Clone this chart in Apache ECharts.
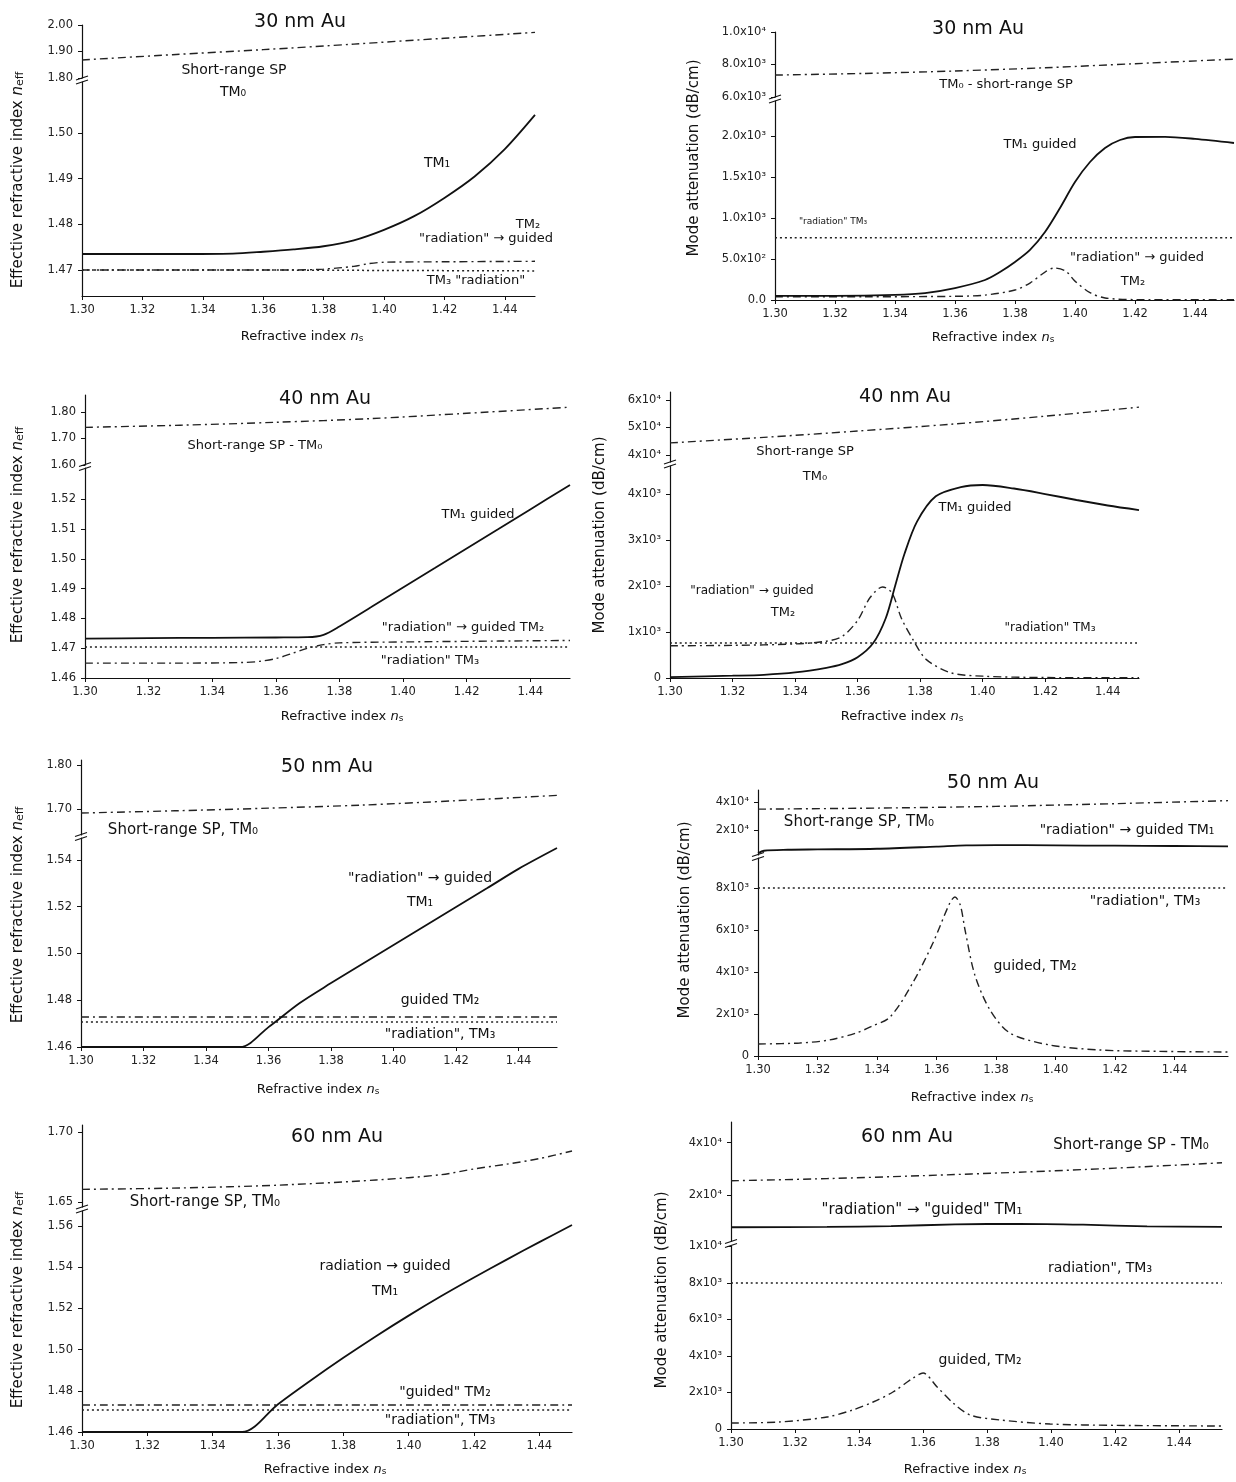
<!DOCTYPE html>
<html>
<head>
<meta charset="utf-8">
<script src="https://cdn.jsdelivr.net/npm/echarts@6/dist/echarts.min.js"></script>
<style>
html,body{margin:0;padding:0;background:#fff;}
#chart{width:1236px;height:1482px;}
</style>
</head>
<body>
<div id="chart"></div>
<script>
// ---------------- DATA ----------------
const xTicks = [1.30, 1.32, 1.34, 1.36, 1.38, 1.40, 1.42, 1.44];

// Panel 1: 30 nm Au, effective index
const p1_upTicks = [1.80, 1.90, 2.00];
const p1_upLabels = ['1.80', '1.90', '2.00'];
const p1_loTicks = [1.47, 1.48, 1.49, 1.50];
const p1_loLabels = ['1.47', '1.48', '1.49', '1.50'];
const p1_sp  = [[1.30,1.868],[1.33,1.888],[1.36,1.907],[1.39,1.928],[1.42,1.950],[1.45,1.972]];
const p1_tm1 = [[1.30,1.4735],[1.33,1.4735],[1.35,1.4736],[1.36,1.4740],[1.37,1.4745],[1.38,1.4752],[1.39,1.4765],[1.40,1.4788],[1.41,1.4818],[1.42,1.4858],[1.43,1.4905],[1.44,1.4965],[1.45,1.5040]];
const p1_tm2 = [[1.30,1.4700],[1.37,1.4700],[1.38,1.4702],[1.39,1.4708],[1.395,1.4714],[1.40,1.4717],[1.42,1.4718],[1.45,1.4719]];
const p1_tm3 = [[1.30,1.4700],[1.35,1.4700],[1.40,1.4699],[1.45,1.4698]];

// Panel 2: 30 nm Au, attenuation
const p2_upTicks = [6000, 8000, 10000];
const p2_upLabels = ['6.0x10³', '8.0x10³', '1.0x10⁴'];
const p2_loTicks = [0, 500, 1000, 1500, 2000];
const p2_loLabels = ['0.0', '5.0x10²', '1.0x10³', '1.5x10³', '2.0x10³'];
const p2_sp  = [[1.30,7350],[1.33,7450],[1.36,7600],[1.39,7800],[1.42,8050],[1.453,8330]];
const p2_tm1 = [[1.30,50],[1.32,50],[1.34,62],[1.35,85],[1.36,146],[1.37,244],[1.375,341],[1.38,463],[1.385,610],[1.39,829],[1.395,1122],[1.40,1439],[1.405,1683],[1.41,1854],[1.415,1951],[1.42,1988],[1.43,1990],[1.44,1965],[1.453,1915]];
const p2_tm2 = [[1.30,40],[1.33,40],[1.36,45],[1.37,60],[1.38,122],[1.385,207],[1.39,341],[1.393,390],[1.397,350],[1.40,230],[1.405,90],[1.41,25],[1.42,5],[1.453,5]];
const p2_tm3 = [[1.30,760],[1.38,760],[1.453,760]];

// Panel 3: 40 nm Au, effective index
const p3_upTicks = [1.60, 1.70, 1.80];
const p3_upLabels = ['1.60', '1.70', '1.80'];
const p3_loTicks = [1.46, 1.47, 1.48, 1.49, 1.50, 1.51, 1.52];
const p3_loLabels = ['1.46', '1.47', '1.48', '1.49', '1.50', '1.51', '1.52'];
const p3_sp  = [[1.30,1.742],[1.33,1.750],[1.36,1.761],[1.39,1.775],[1.42,1.795],[1.4525,1.818]];
const p3_tm1 = [[1.30,1.4732],[1.32,1.4734],[1.34,1.4735],[1.36,1.4736],[1.37,1.4737],[1.375,1.4745],[1.38,1.4773],[1.39,1.4838],[1.40,1.4904],[1.41,1.4969],[1.42,1.5035],[1.43,1.5100],[1.44,1.5166],[1.4525,1.5248]];
const p3_tm2 = [[1.30,1.4650],[1.33,1.4650],[1.35,1.4652],[1.355,1.4656],[1.36,1.4665],[1.365,1.4682],[1.37,1.4700],[1.375,1.4712],[1.38,1.4718],[1.40,1.4721],[1.43,1.4724],[1.4525,1.4726]];
const p3_tm3 = [[1.30,1.4704],[1.38,1.4704],[1.4525,1.4704]];

// Panel 4: 40 nm Au, attenuation
const p4_upTicks = [40000, 50000, 60000];
const p4_upLabels = ['4x10⁴', '5x10⁴', '6x10⁴'];
const p4_loTicks = [0, 1000, 2000, 3000, 4000];
const p4_loLabels = ['0', '1x10³', '2x10³', '3x10³', '4x10³'];
const p4_sp  = [[1.30,44400],[1.33,46400],[1.36,48700],[1.39,51200],[1.42,54100],[1.45,57400]];
const p4_tm1 = [[1.30,20],[1.32,50],[1.33,70],[1.34,120],[1.35,220],[1.355,300],[1.36,450],[1.365,760],[1.369,1300],[1.372,2000],[1.375,2700],[1.379,3400],[1.385,3950],[1.393,4150],[1.40,4196],[1.41,4120],[1.42,4000],[1.43,3870],[1.44,3750],[1.45,3652]];
const p4_tm2 = [[1.30,700],[1.32,710],[1.34,740],[1.35,800],[1.355,900],[1.36,1250],[1.364,1750],[1.368,1980],[1.371,1850],[1.374,1300],[1.378,800],[1.382,400],[1.39,110],[1.40,40],[1.42,10],[1.45,5]];
const p4_tm3 = [[1.30,760],[1.37,760],[1.45,760]];

// Panel 5: 50 nm Au, effective index
const p5_upTicks = [1.70, 1.80];
const p5_upLabels = ['1.70', '1.80'];
const p5_loTicks = [1.46, 1.48, 1.50, 1.52, 1.54];
const p5_loLabels = ['1.46', '1.48', '1.50', '1.52', '1.54'];
const p5_sp  = [[1.30,1.691],[1.33,1.696],[1.36,1.702],[1.39,1.709],[1.42,1.719],[1.4523,1.731]];
const p5_tm1 = [[1.30,1.4600],[1.3509,1.4600],[1.36,1.4685],[1.37,1.4788],[1.38,1.4873],[1.39,1.4955],[1.40,1.5036],[1.41,1.5117],[1.42,1.5198],[1.43,1.5279],[1.44,1.5361],[1.4523,1.5450]];
const p5_tm2 = [[1.30,1.4728],[1.38,1.4728],[1.4523,1.4728]];
const p5_tm3 = [[1.30,1.4707],[1.38,1.4707],[1.4523,1.4707]];

// Panel 6: 50 nm Au, attenuation
const p6_upTicks = [20000, 40000];
const p6_upLabels = ['2x10⁴', '4x10⁴'];
const p6_loTicks = [0, 2000, 4000, 6000, 8000];
const p6_loLabels = ['0', '2x10³', '4x10³', '6x10³', '8x10³'];
const p6_sp  = [[1.30,33600],[1.34,34500],[1.38,36000],[1.42,38500],[1.458,41500]];
const p6_tm1 = [[1.30,11300],[1.302,12000],[1.31,12300],[1.32,12400],[1.34,12600],[1.36,13300],[1.37,13700],[1.38,13800],[1.40,13700],[1.42,13600],[1.44,13500],[1.458,13400]];
const p6_tm2 = [[1.30,571],[1.314,619],[1.324,762],[1.333,1095],[1.338,1400],[1.3444,1857],[1.352,3476],[1.3588,5380],[1.3645,7290],[1.3662,7570],[1.368,7190],[1.3696,6000],[1.3729,3857],[1.378,2190],[1.3847,1095],[1.3981,524],[1.415,286],[1.435,220],[1.458,190]];
const p6_tm3 = [[1.30,8000],[1.38,8000],[1.458,8000]];

// Panel 7: 60 nm Au, effective index
const p7_upTicks = [1.65, 1.70];
const p7_upLabels = ['1.65', '1.70'];
const p7_loTicks = [1.46, 1.48, 1.50, 1.52, 1.54, 1.56];
const p7_loLabels = ['1.46', '1.48', '1.50', '1.52', '1.54', '1.56'];
const p7_sp  = [[1.30,1.659],[1.33,1.660],[1.36,1.662],[1.39,1.6657],[1.41,1.6695],[1.42,1.6736],[1.43,1.677],[1.44,1.681],[1.45,1.6864]];
const p7_tm1 = [[1.30,1.4600],[1.349,1.4600],[1.36,1.4735],[1.37,1.4850],[1.38,1.4960],[1.39,1.5065],[1.40,1.5165],[1.41,1.5260],[1.42,1.5350],[1.43,1.5437],[1.44,1.5522],[1.45,1.5605]];
const p7_tm2 = [[1.30,1.4731],[1.38,1.4731],[1.45,1.4731]];
const p7_tm3 = [[1.30,1.4707],[1.38,1.4707],[1.45,1.4707]];

// Panel 8: 60 nm Au, attenuation
const p8_upTicks = [20000, 40000];
const p8_upLabels = ['2x10⁴', '4x10⁴'];
const p8_loTicks = [0, 2000, 4000, 6000, 8000, 10000];
const p8_loLabels = ['0', '2x10³', '4x10³', '6x10³', '8x10³', '1x10⁴'];
const p8_sp  = [[1.30,24100],[1.33,24800],[1.36,25800],[1.39,27000],[1.42,28500],[1.4534,30600]];
const p8_tm1 = [[1.30,13000],[1.33,13050],[1.35,13200],[1.37,13500],[1.39,13600],[1.41,13450],[1.43,13150],[1.4534,13050]];
const p8_tm2 = [[1.30,330],[1.315,384],[1.33,657],[1.338,1041],[1.3444,1479],[1.3506,2027],[1.3569,2795],[1.36,3068],[1.3644,2301],[1.3694,1425],[1.3747,767],[1.3841,493],[1.3997,274],[1.42,200],[1.4534,164]];
const p8_tm3 = [[1.30,8000],[1.38,8000],[1.4534,8000]];

// ---------------- BUILD ----------------
const FONT = '"DejaVu Sans", "Liberation Sans", Arial, sans-serif';
const INK = '#111';
const grids = [], xAxes = [], yAxes = [], series = [], graphics = [];

function fmt(ticks, labels) {
  return function (v) {
    for (let i = 0; i < ticks.length; i++) {
      if (Math.abs(ticks[i] - v) <= 1e-6 * Math.max(1, Math.abs(ticks[i]))) return labels[i];
    }
    return '';
  };
}

function addGrid(left, top, width, height, xmax, showX, y) {
  const gi = grids.length;
  grids.push({ left: left, top: top, width: width, height: height, containLabel: false });
  xAxes.push({
    type: 'value', gridIndex: gi, min: 1.30, max: xmax, show: showX,
    axisLine: { show: true, onZero: false, lineStyle: { color: INK, width: 1.2 } },
    axisTick: { show: true, length: 4, customValues: xTicks, lineStyle: { color: INK } },
    axisLabel: { customValues: xTicks, formatter: v => v.toFixed(2), fontSize: 11.5, color: '#222', fontFamily: FONT, margin: 8 },
    splitLine: { show: false }
  });
  const ya = {
    type: y.type || 'value', gridIndex: gi, min: y.min, max: y.max,
    axisLine: { show: true, onZero: false, lineStyle: { color: INK, width: 1.2 } },
    axisTick: { show: true, length: 4, customValues: y.ticks, lineStyle: { color: INK } },
    axisLabel: { customValues: y.ticks, formatter: fmt(y.ticks, y.labels), fontSize: 11.5, color: '#222', fontFamily: FONT, margin: 9 },
    splitLine: { show: false }
  };
  if (y.type === 'log') ya.logBase = 10;
  yAxes.push(ya);
  return gi;
}

const STY = {
  solid: { color: INK, width: 1.8, type: 'solid' },
  dot: { color: '#222', width: 1.5, type: [2, 3] },
  dashdot: { color: '#222', width: 1.4, type: [8, 4, 2, 4] }
};
function addLine(gi, data, kind) {
  series.push({
    type: 'line', xAxisIndex: gi, yAxisIndex: gi, data: data,
    showSymbol: false, symbol: 'none', smooth: 0.3, clip: true, silent: true,
    lineStyle: STY[kind]
  });
}

function txt(x, y, text, size) {
  graphics.push({ type: 'text', x: x, y: y, silent: true,
    style: { text: text, fontSize: size, fontFamily: FONT, fill: INK, align: 'center', verticalAlign: 'middle' } });
}
function richTitle(x, y, main, sub, rotate, size) {
  graphics.push({ type: 'text', x: x, y: y, rotation: rotate ? Math.PI / 2 : 0, silent: true,
    style: {
      text: '{a|' + main + '}{i|n}{s|' + sub + '}',
      align: 'center', verticalAlign: 'middle',
      rich: {
        a: { fontSize: size, fontFamily: FONT, fill: INK },
        i: { fontSize: size, fontFamily: FONT, fill: INK, fontStyle: 'italic' },
        s: { fontSize: Math.round(size * 0.7), fontFamily: FONT, fill: INK, verticalAlign: 'bottom' }
      }
    } });
}
function plainYTitle(x, y, text, size) {
  graphics.push({ type: 'text', x: x, y: y, rotation: Math.PI / 2, silent: true,
    style: { text: text, fontSize: size, fontFamily: FONT, fill: INK, align: 'center', verticalAlign: 'middle' } });
}
function brk(x, y) {
  [-2, 2].forEach(function (dy) {
    graphics.push({ type: 'line', silent: true,
      shape: { x1: x - 6, y1: y + dy + 2, x2: x + 6, y2: y + dy - 2 },
      style: { stroke: INK, lineWidth: 1.2 } });
  });
}

function panel(c) {
  const u = addGrid(c.left, c.U.top, c.width, c.U.height, c.xmax, false, c.U);
  const l = addGrid(c.left, c.L.top, c.width, c.L.height, c.xmax, true, c.L);
  c.up.forEach(s => addLine(u, s[0], s[1]));
  c.lo.forEach(s => addLine(l, s[0], s[1]));
  brk(c.left, (c.U.top + c.U.height + c.L.top) / 2);
}

// Panel 1
panel({ left: 82, width: 453, xmax: 1.45,
  U: { top: 25, height: 53, min: 1.80, max: 2.00, ticks: p1_upTicks, labels: p1_upLabels },
  L: { top: 82, height: 214, min: 1.4643, max: 1.5112, ticks: p1_loTicks, labels: p1_loLabels },
  up: [[p1_sp, 'dashdot']], lo: [[p1_tm3, 'dot'], [p1_tm2, 'dashdot'], [p1_tm1, 'solid']] });
// Panel 2
panel({ left: 775, width: 459, xmax: 1.453,
  U: { top: 32, height: 65, min: 6000, max: 10000, ticks: p2_upTicks, labels: p2_upLabels },
  L: { top: 101, height: 199, min: 0, max: 2427, ticks: p2_loTicks, labels: p2_loLabels },
  up: [[p2_sp, 'dashdot']], lo: [[p2_tm3, 'dot'], [p2_tm2, 'dashdot'], [p2_tm1, 'solid']] });
// Panel 3
panel({ left: 85, width: 485, xmax: 1.4525,
  U: { top: 395, height: 70, min: 1.60, max: 1.864, ticks: p3_upTicks, labels: p3_upLabels },
  L: { top: 468, height: 210, min: 1.46, max: 1.5305, ticks: p3_loTicks, labels: p3_loLabels },
  up: [[p3_sp, 'dashdot']], lo: [[p3_tm3, 'dot'], [p3_tm2, 'dashdot'], [p3_tm1, 'solid']] });
// Panel 4
panel({ left: 670, width: 469, xmax: 1.45,
  U: { top: 392, height: 70, min: 37450, max: 62900, ticks: p4_upTicks, labels: p4_upLabels },
  L: { top: 466, height: 212, min: 0, max: 4609, ticks: p4_loTicks, labels: p4_loLabels },
  up: [[p4_sp, 'dashdot']], lo: [[p4_tm3, 'dot'], [p4_tm2, 'dashdot'], [p4_tm1, 'solid']] });
// Panel 5
panel({ left: 81, width: 476, xmax: 1.4523,
  U: { top: 760, height: 75, min: 1.641, max: 1.8115, ticks: p5_upTicks, labels: p5_upLabels },
  L: { top: 838, height: 209, min: 1.46, max: 1.5493, ticks: p5_loTicks, labels: p5_loLabels },
  up: [[p5_sp, 'dashdot']], lo: [[p5_tm3, 'dot'], [p5_tm2, 'dashdot'], [p5_tm1, 'solid']] });
// Panel 6
panel({ left: 758, width: 470, xmax: 1.458,
  U: { type: 'log', top: 790, height: 65, min: 10800, max: 54000, ticks: p6_upTicks, labels: p6_upLabels },
  L: { top: 858, height: 198, min: 0, max: 9429, ticks: p6_loTicks, labels: p6_loLabels },
  up: [[p6_sp, 'dashdot'], [p6_tm1, 'solid']], lo: [[p6_tm3, 'dot'], [p6_tm2, 'dashdot']] });
// Panel 7
panel({ left: 82, width: 490, xmax: 1.45,
  U: { top: 1125, height: 82, min: 1.6464, max: 1.7050, ticks: p7_upTicks, labels: p7_upLabels },
  L: { top: 1211, height: 221, min: 1.46, max: 1.5673, ticks: p7_loTicks, labels: p7_loLabels },
  up: [[p7_sp, 'dashdot']], lo: [[p7_tm3, 'dot'], [p7_tm2, 'dashdot'], [p7_tm1, 'solid']] });
// Panel 8
panel({ left: 731, width: 491, xmax: 1.4534,
  U: { type: 'log', top: 1122, height: 119, min: 10830, max: 52600, ticks: p8_upTicks, labels: p8_upLabels },
  L: { top: 1246, height: 183, min: 0, max: 10027, ticks: p8_loTicks, labels: p8_loLabels },
  up: [[p8_sp, 'dashdot'], [p8_tm1, 'solid']], lo: [[p8_tm3, 'dot'], [p8_tm2, 'dashdot']] });

// ---------------- TEXT ----------------
const YEFF = 'Effective refractive index ';
const YATT = 'Mode attenuation (dB/cm)';
const XT = 'Refractive index ';

// P1
txt(300, 22, '30 nm Au', 19);
txt(234, 70, 'Short-range SP', 14);
txt(233, 92, 'TM₀', 14);
txt(437, 163, 'TM₁', 14);
txt(528, 225, 'TM₂', 13);
txt(486, 239, '"radiation" → guided', 13);
txt(476, 281, 'TM₃ "radiation"', 13);
richTitle(18, 180, YEFF, 'eff', true, 15);
richTitle(302, 337, XT, 's', false, 13);
// P2
txt(978, 29, '30 nm Au', 19);
txt(1006, 85, 'TM₀ - short-range SP', 13);
txt(1040, 145, 'TM₁ guided', 13);
txt(833, 222, '"radiation" TM₃', 9);
txt(1137, 258, '"radiation" → guided', 13);
txt(1133, 282, 'TM₂', 13);
plainYTitle(694, 158, YATT, 15);
richTitle(993, 338, XT, 's', false, 13);
// P3
txt(325, 399, '40 nm Au', 19);
txt(255, 446, 'Short-range SP - TM₀', 13);
txt(478, 515, 'TM₁ guided', 13);
txt(463, 628, '"radiation" → guided TM₂', 13);
txt(430, 661, '"radiation" TM₃', 13);
richTitle(18, 535, YEFF, 'eff', true, 15);
richTitle(342, 717, XT, 's', false, 13);
// P4
txt(905, 397, '40 nm Au', 19);
txt(805, 452, 'Short-range SP', 13);
txt(815, 477, 'TM₀', 13);
txt(975, 508, 'TM₁ guided', 13);
txt(752, 591, '"radiation" → guided', 12);
txt(783, 613, 'TM₂', 13);
txt(1050, 628, '"radiation" TM₃', 12);
plainYTitle(600, 535, YATT, 15);
richTitle(902, 717, XT, 's', false, 13);
// P5
txt(327, 767, '50 nm Au', 19);
txt(183, 830, 'Short-range SP, TM₀', 15);
txt(420, 878, '"radiation" → guided', 14);
txt(420, 902, 'TM₁', 14);
txt(440, 1000, 'guided TM₂', 14);
txt(440, 1034, '"radiation", TM₃', 14);
richTitle(18, 915, YEFF, 'eff', true, 15);
richTitle(318, 1090, XT, 's', false, 13);
// P6
txt(993, 783, '50 nm Au', 19);
txt(859, 822, 'Short-range SP, TM₀', 15);
txt(1127, 830, '"radiation" → guided TM₁', 14);
txt(1145, 901, '"radiation", TM₃', 14);
txt(1035, 966, 'guided, TM₂', 14);
plainYTitle(685, 920, YATT, 15);
richTitle(972, 1098, XT, 's', false, 13);
// P7
txt(337, 1137, '60 nm Au', 19);
txt(205, 1202, 'Short-range SP, TM₀', 15);
txt(385, 1266, 'radiation → guided', 14);
txt(385, 1291, 'TM₁', 14);
txt(445, 1392, '"guided" TM₂', 14);
txt(440, 1420, '"radiation", TM₃', 14);
richTitle(18, 1300, YEFF, 'eff', true, 15);
richTitle(325, 1470, XT, 's', false, 13);
// P8
txt(907, 1137, '60 nm Au', 19);
txt(1131, 1145, 'Short-range SP - TM₀', 15);
txt(922, 1210, '"radiation" → "guided" TM₁', 15);
txt(1100, 1268, 'radiation", TM₃', 14);
txt(980, 1360, 'guided, TM₂', 14);
plainYTitle(662, 1290, YATT, 15);
richTitle(965, 1470, XT, 's', false, 13);

const chart = echarts.init(document.getElementById('chart'), null, { renderer: 'canvas' });
chart.setOption({
  backgroundColor: '#ffffff',
  animation: false,
  grid: grids,
  xAxis: xAxes,
  yAxis: yAxes,
  series: series,
  graphic: graphics
});
</script>
</body>
</html>
